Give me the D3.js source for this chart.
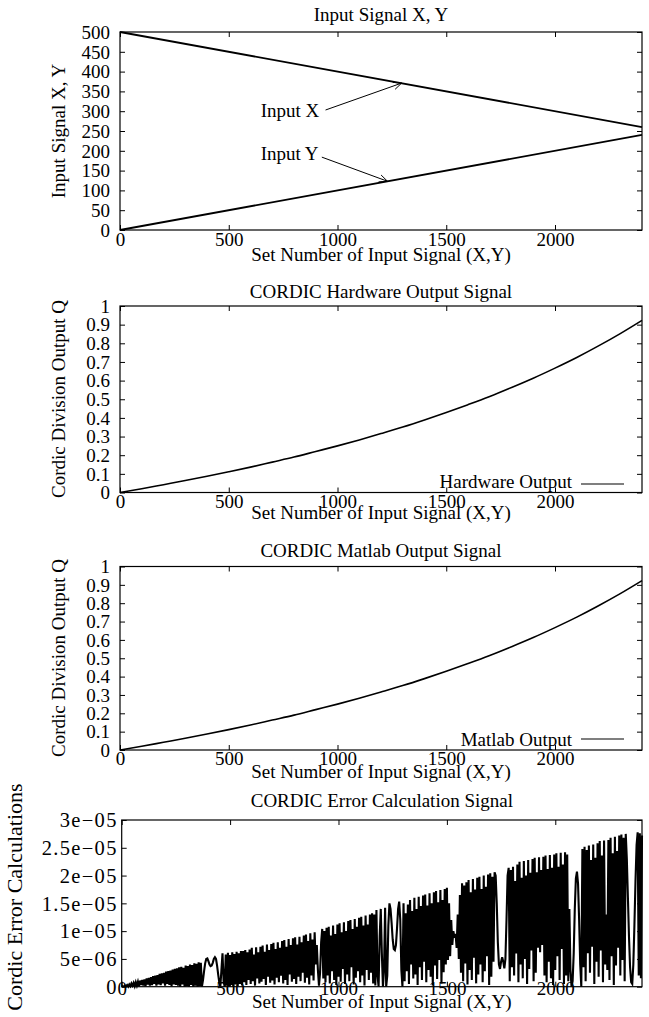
<!DOCTYPE html>
<html>
<head>
<meta charset="utf-8">
<script src="https://cdn.jsdelivr.net/npm/d3@7"></script>
<style>
  body { margin: 0; background: #fff; }
  svg text { font-family: "Liberation Serif", "Times New Roman", Times, serif; fill: #000; }
</style>
</head>
<body>
<svg id="chart" width="649" height="1017"></svg>
<script>
// ---------------- DATA ----------------
const setDomain = [0, 2400];
const setTicks = [0, 500, 1000, 1500, 2000];

// Panel 1: input signals
const inputSet = [0, 2400];
const inputX = [500, 260];
const inputY = [0, 240];
const inputTicks = [0, 50, 100, 150, 200, 250, 300, 350, 400, 450, 500];
// annotations (data units)
const annoLabels = ["Input X", "Input Y"];
const annoLabelPos = [[647, 286], [647, 177]];
const annoTail = [[945, 303], [928, 184]];
const annoHead = [[1295, 371], [1230, 123]];

// Panels 2 & 3: division output Q (read every 100 sets)
const qSet = [0,100,200,300,400,500,600,700,800,900,1000,1100,1200,1300,1400,1500,1600,1700,1800,1900,2000,2100,2200,2300,2400];
const hardwareQ = [0,0.020,0.042,0.064,0.087,0.111,0.136,0.163,0.190,0.220,0.250,0.282,0.316,0.351,0.389,0.429,0.471,0.515,0.563,0.613,0.667,0.724,0.786,0.852,0.923];
const matlabQ   = [0,0.020,0.042,0.064,0.087,0.111,0.136,0.163,0.190,0.220,0.250,0.282,0.316,0.351,0.389,0.429,0.471,0.515,0.563,0.613,0.667,0.724,0.786,0.852,0.923];
const qTicks = [0,0.1,0.2,0.3,0.4,0.5,0.6,0.7,0.8,0.9,1];
const qTickLabels = ["0","0.1","0.2","0.3","0.4","0.5","0.6","0.7","0.8","0.9","1"];

// Panel 4: error, one value every 5 sets, in units of 1e-7
const errorStep = 5;
const errorE7 = [
  0,1,0,2,1,3,0,4,1,6,            // 0
  2,7,1,8,2,9,1,11,3,12,          // 50
  2,13,1,15,4,16,2,17,3,19,       // 100
  5,20,2,21,4,23,3,24,6,25,       // 150
  2,27,5,28,3,29,1,31,4,32,       // 200
  3,33,2,35,0,36,4,34,0,38,       // 250
  1,37,0,40,3,39,0,42,2,41,       // 300
  0,44,1,43,0,12,28,42,50,51,     // 350
  46,40,37,38,43,50,53,50,38,22,  // 400
  8,0,30,60,10,0,58,2,61,0,       // 450
  57,3,62,0,59,4,63,1,60,5,       // 500
  64,2,64,8,66,3,62,12,67,5,      // 550
  70,10,58,2,71,15,62,6,72,9,     // 600
  74,14,63,3,76,18,66,7,77,11,    // 650
  79,4,68,16,80,8,70,20,82,6,     // 700
  84,12,72,3,86,22,75,9,87,14,    // 750
  89,5,76,18,90,10,80,25,92,7,    // 800
  94,16,82,4,96,20,85,11,98,40,   // 850
  75,30,2,25,80,104,15,100,8,106, // 900
  20,108,6,92,28,110,12,95,3,112,     // 950
  18,114,9,98,32,116,5,100,22,118,    // 1000
  10,120,35,104,4,122,16,108,28,124,  // 1050
  8,126,20,110,2,128,30,112,12,130,   // 1100
  25,132,6,130,2,138,20,0,90,140,     // 1150
  60,0,30,142,0,20,110,150,140,115,   // 1200
  85,68,66,75,105,140,153,120,30,0,   // 1250
  150,10,132,28,148,5,156,40,136,15,  // 1300
  160,22,140,3,162,35,145,12,164,45,  // 1350
  166,8,146,30,168,18,150,2,170,38,   // 1400
  172,14,152,48,174,6,156,26,176,40,  // 1450
  178,48,150,55,120,75,100,88,95,70,  // 1500
  130,50,165,25,186,10,182,42,188,4,  // 1550
  192,30,170,12,194,52,175,6,196,22,  // 1600
  198,40,176,8,200,28,180,55,202,3,   // 1650
  204,18,198,45,206,200,150,80,40,32, // 1700
  45,53,45,33,50,120,200,214,10,210,  // 1750
  35,216,20,190,60,220,8,225,40,196,  // 1800
  15,226,50,200,5,228,32,205,65,230,  // 1850
  10,232,25,206,70,233,62,210,75,234, // 1900
  20,236,8,212,45,237,15,214,3,238,   // 1950
  30,240,55,216,12,241,68,220,5,242,  // 2000
  20,238,10,140,30,0,10,60,140,195,   // 2050
  207,185,120,40,0,248,35,252,10,246, // 2100
  60,254,25,228,72,256,5,232,45,258,  // 2150
  18,262,65,236,8,263,40,130,30,264,  // 2200
  12,268,55,240,3,270,38,244,70,272,  // 2250
  20,274,48,268,10,275,230,160,90,35, // 2300
  8,5,40,110,190,255,278,20,276,15,   // 2350
  272                                  // 2400
];
const errorTicks = [0, 5e-6, 1e-5, 1.5e-5, 2e-5, 2.5e-5, 3e-5];
const errorTickLabels = ["0","5e\u221206","1e\u221205","1.5e\u221205","2e\u221205","2.5e\u221205","3e\u221205"];

// ---------------- LAYOUT ----------------
const FS = 19;
const FONT = '"Liberation Serif", "Times New Roman", Times, serif';
const svg = d3.select("#chart");
svg.append("rect").attr("width", 649).attr("height", 1017).attr("fill", "#fff");

function txt(x, y, s, anchor, rotate, size) {
  const t = svg.append("text")
    .attr("x", x).attr("y", y)
    .attr("text-anchor", anchor || "middle")
    .attr("font-size", size || FS)
    .attr("font-family", FONT)
    .text(s);
  if (rotate) t.attr("transform", `rotate(-90,${x},${y})`);
  return t;
}

function panel(cfg) {
  const x = d3.scaleLinear().domain(setDomain).range([cfg.left, cfg.right]);
  const y = d3.scaleLinear().domain(cfg.yDomain).range([cfg.bottom, cfg.top]);
  const tl = 5;
  const noDomain = s => s.select(".domain").remove();
  const fsY = cfg.yLabelSize || FS;

  // inward tick marks on four sides
  svg.append("g").attr("transform", `translate(${cfg.left},0)`)
    .call(d3.axisLeft(y).tickValues(cfg.yTicks).tickSizeInner(-tl).tickSizeOuter(0).tickFormat(""))
    .call(noDomain);
  svg.append("g").attr("transform", `translate(${cfg.right},0)`)
    .call(d3.axisRight(y).tickValues(cfg.yTicks).tickSizeInner(-tl).tickSizeOuter(0).tickFormat(""))
    .call(noDomain);
  svg.append("g").attr("transform", `translate(0,${cfg.top})`)
    .call(d3.axisTop(x).tickValues(setTicks).tickSizeInner(-tl).tickSizeOuter(0).tickFormat(""))
    .call(noDomain);
  svg.append("g").attr("transform", `translate(0,${cfg.bottom})`)
    .call(d3.axisBottom(x).tickValues(setTicks).tickSizeInner(-tl).tickSizeOuter(0).tickFormat(""))
    .call(noDomain);

  // tick labels
  const yl = svg.append("g").attr("transform", `translate(${cfg.left},0)`)
    .call(d3.axisLeft(y).tickValues(cfg.yTicks).tickSize(0).tickPadding(cfg.yPad || 10)
      .tickFormat((d, i) => cfg.yLabels[i]))
    .call(noDomain);
  yl.attr("font-size", fsY).attr("font-family", FONT);
  yl.selectAll("text").attr("dy", "0.33em");
  if (cfg.yLetterSpacing) yl.selectAll("text").attr("letter-spacing", cfg.yLetterSpacing);

  const xl = svg.append("g").attr("transform", `translate(0,${cfg.bottom})`)
    .call(d3.axisBottom(x).tickValues(setTicks).tickSize(0).tickFormat(d3.format("d")))
    .call(noDomain);
  xl.attr("font-size", FS).attr("font-family", FONT);
  xl.selectAll("text").attr("y", cfg.xLabelBase).attr("dy", "0");
  svg.selectAll("g.tick line").attr("stroke", "#000");

  // frame
  svg.append("rect")
    .attr("x", cfg.left).attr("y", cfg.top)
    .attr("width", cfg.right - cfg.left).attr("height", cfg.bottom - cfg.top)
    .attr("fill", "none").attr("stroke", "#000").attr("stroke-width", 1.2);

  // titles
  txt((cfg.left + cfg.right) / 2, cfg.titleBase, cfg.title);
  txt((cfg.left + cfg.right) / 2, cfg.xTitleBase, "Set Number of Input Signal (X,Y)");
  txt(cfg.yTitleX, cfg.yTitleY, cfg.yTitle, "middle", true, cfg.yTitleSize);

  return { x, y };
}

// Panel 1
const p1 = panel({
  left: 120, right: 642, top: 32, bottom: 230, yDomain: [0, 500],
  yTicks: inputTicks, yLabels: inputTicks.map(String),
  xLabelBase: 16, titleBase: 21, xTitleBase: 261,
  title: "Input Signal X, Y", yTitle: "Input Signal X, Y", yTitleX: 65, yTitleY: 131
});
const lineXY = d3.line().x(d => p1.x(d[0])).y(d => p1.y(d[1]));
svg.append("path").datum(inputSet.map((s, i) => [s, inputX[i]]))
  .attr("d", lineXY).attr("fill", "none").attr("stroke", "#000").attr("stroke-width", 1.8);
svg.append("path").datum(inputSet.map((s, i) => [s, inputY[i]]))
  .attr("d", lineXY).attr("fill", "none").attr("stroke", "#000").attr("stroke-width", 1.8);

annoLabels.forEach((lab, i) => {
  txt(p1.x(annoLabelPos[i][0]), p1.y(annoLabelPos[i][1]), lab, "start");
  const x0 = p1.x(annoTail[i][0]), y0 = p1.y(annoTail[i][1]);
  const x1 = p1.x(annoHead[i][0]), y1 = p1.y(annoHead[i][1]);
  svg.append("line").attr("x1", x0).attr("y1", y0).attr("x2", x1).attr("y2", y1)
    .attr("stroke", "#000").attr("stroke-width", 1);
  const ang = Math.atan2(y1 - y0, x1 - x0), L = 9, a = 0.42;
  const path = `M${x1 - L * Math.cos(ang - a)},${y1 - L * Math.sin(ang - a)}L${x1},${y1}L${x1 - L * Math.cos(ang + a)},${y1 - L * Math.sin(ang + a)}`;
  svg.append("path").attr("d", path).attr("fill", "none").attr("stroke", "#000").attr("stroke-width", 1);
});

// Panels 2 & 3
function qPanel(cfg, values, legend) {
  const p = panel(Object.assign({
    left: 120, right: 642, yDomain: [0, 1], yTicks: qTicks, yLabels: qTickLabels,
    xLabelBase: 15, yTitle: "Cordic Division Output Q", yTitleX: 65
  }, cfg));
  const ln = d3.line().x(d => p.x(d[0])).y(d => p.y(d[1])).curve(d3.curveMonotoneX);
  svg.append("path").datum(qSet.map((s, i) => [s, values[i]]))
    .attr("d", ln).attr("fill", "none").attr("stroke", "#000").attr("stroke-width", 1.6);
  txt(572, cfg.bottom - 4.5, legend, "end");
  svg.append("line").attr("x1", 581).attr("x2", 624)
    .attr("y1", cfg.bottom - cfg.legendLift).attr("y2", cfg.bottom - cfg.legendLift)
    .attr("stroke", "#000").attr("stroke-width", 1.2);
}
qPanel({ top: 306, bottom: 492.5, titleBase: 298, xTitleBase: 519, legendLift: 8.5,
  title: "CORDIC Hardware Output Signal", yTitleY: 399 }, hardwareQ, "Hardware Output");
qPanel({ top: 566.5, bottom: 750, titleBase: 557, xTitleBase: 778, legendLift: 11,
  title: "CORDIC Matlab Output Signal", yTitleY: 658 }, matlabQ, "Matlab Output");

// Panel 4
const p4 = panel({
  left: 121.7, right: 642, top: 820, bottom: 986.7, yDomain: [0, 3e-5],
  yTicks: errorTicks, yLabels: errorTickLabels, yLabelSize: 20.5, yPad: 4, yLetterSpacing: 1.3,
  xLabelBase: 8, titleBase: 807, xTitleBase: 1008,
  title: "CORDIC Error Calculation Signal", yTitle: "Cordic Error Calculations",
  yTitleX: 22, yTitleY: 897, yTitleSize: 22
});
const lnE = d3.line().x(d => p4.x(d[0])).y(d => p4.y(d[1]));
svg.append("path").datum(errorE7.map((v, i) => [i * errorStep, v * 1e-7]))
  .attr("d", lnE).attr("fill", "none").attr("stroke", "#000").attr("stroke-width", 2.1)
  .attr("stroke-linejoin", "miter");
</script>
</body>
</html>
